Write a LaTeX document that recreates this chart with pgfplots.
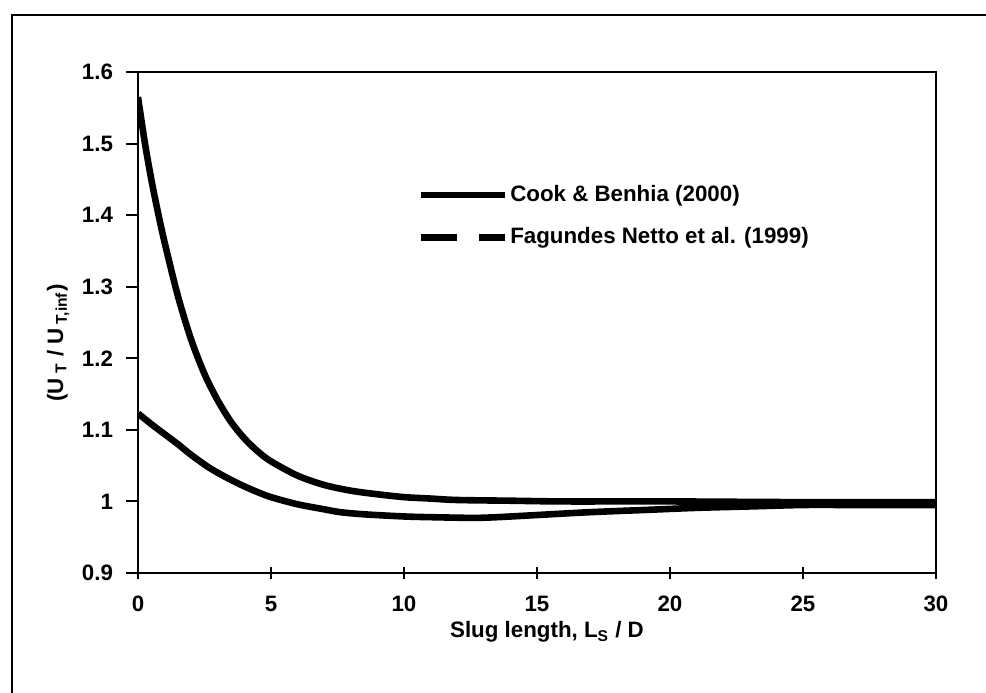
\documentclass[border=0pt]{standalone}
\usepackage{fontspec}
\setmainfont{Liberation Sans}
\usepackage{pgfplots}
\pgfplotsset{compat=1.18}
\begin{document}
\begin{tikzpicture}
\useasboundingbox (-69bp,-60bp) rectangle (424bp,286.5bp);
\begin{axis}[
  scale only axis,
  width=399bp, height=250.5bp,
  xmin=0, xmax=30, ymin=0.9, ymax=1.6,
  xtick={0,5,10,15,20,25,30},
  ytick={0.9,1,1.1,1.2,1.3,1.4,1.5,1.6},
  yticklabels={0.9,1,1.1,1.2,1.3,1.4,1.5,1.6},
  xtick pos=left, ytick pos=left,
  x tick label style={yshift=-5bp},
  y tick label style={xshift=-3bp},
  xtick align=center, ytick align=outside,
  major tick length=6bp,
  tick style={line width=1bp, black},
  axis line style={line width=1.4bp},
  /pgf/number format/assume math mode=true,
  ticklabel style={font=\fontsize{11.2}{13}\selectfont\bfseries},
  label style={font=\fontsize{11.2}{13}\selectfont\bfseries},
  xlabel={Slug length, L\textsubscript{S} / D},
  ylabel={(U\textsubscript{ T} / U\textsubscript{ T,inf})},
  xlabel style={at={(axis description cs:0.5125,-0.118)}, anchor=center},
  ylabel style={at={(axis description cs:-0.100,0.459)}, anchor=center},
  legend style={draw=none, fill=none, at={(axis cs:10.5,1.3986)}, anchor=west,
    font=\fontsize{11.2}{13}\selectfont\bfseries, inner sep=0pt,
    row sep=9.5bp, nodes={inner sep=1bp}},
  legend cell align=left,
  legend image code/.code={\draw[#1] (0bp,0bp) -- (42bp,0bp);},
]
\addplot[black, line width=3.3bp, smooth, forget plot] coordinates {
(0,1.565) (0.25,1.503) (0.5,1.450) (0.75,1.404) (1,1.362) (1.5,1.287)
(2,1.226) (2.5,1.178) (3,1.141) (3.5,1.111) (4,1.088) (4.5,1.070)
(5,1.056) (6,1.036) (7,1.023) (8,1.015) (9,1.010) (10,1.006) (11,1.004)
(12,1.002) (14,1.001) (16,1.000) (20,1.000) (25,0.999) (30,0.999)};
\addplot[black, line width=3.3bp, smooth, forget plot] coordinates {
(0,1.123) (0.5,1.108) (1,1.094) (1.5,1.080) (2,1.065) (2.6,1.049)
(3,1.040) (3.5,1.030) (4,1.021) (4.5,1.013) (5,1.006) (6,0.996)
(7,0.989) (7.6,0.985) (8.5,0.982) (10,0.979) (11,0.978) (12.6,0.977)
(13.5,0.978) (15,0.981) (17,0.985) (19,0.988) (21,0.991) (23,0.993)
(25,0.995) (27,0.995) (30,0.995)};
\addlegendimage{black, line width=3.3bp}
\addlegendentry{Cook \& Benhia (2000)}
\addlegendimage{black, line width=3.3bp, dash pattern=on 18bp off 11bp on 13bp off 100bp}
\addlegendentry{Fagundes Netto et al. (1999)}
\end{axis}
\draw[line width=1.3bp] (-63bp,-60bp) -- (-63bp,279bp) -- (424bp,279bp);
\end{tikzpicture}
\end{document}
